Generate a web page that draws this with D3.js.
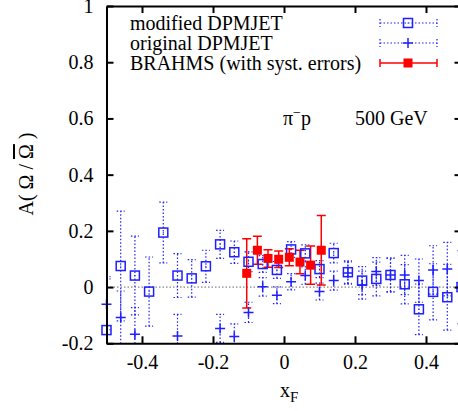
<!DOCTYPE html>
<html>
<head>
<meta charset="utf-8">
<script src="https://cdn.jsdelivr.net/npm/d3@7"></script>
<style>
  body { margin: 0; background: #fff; }
  svg { display: block; font-family: "Liberation Serif", "Times New Roman", serif; }
</style>
</head>
<body>
<svg id="chart" width="458" height="411"></svg>
<script>
// modified DPMJET (open squares)
const modX   = [-0.50, -0.46, -0.42, -0.38, -0.34, -0.30, -0.26, -0.22, -0.18, -0.14, -0.10, -0.06, -0.02,
                 0.02, 0.06, 0.10, 0.14, 0.18, 0.22, 0.26, 0.30, 0.34, 0.38, 0.42, 0.46, 0.50];
const modY   = [-0.153, 0.075, 0.041, -0.016, 0.194, 0.041, 0.031, 0.074, 0.152, 0.124, 0.090, 0.082, 0.061,
                 0.134, 0.120, 0.064, 0.121, 0.053, 0.023, 0.029, 0.043, 0.010, -0.079, -0.017, -0.036, 0.000];
const modErr = [0.19, 0.195, 0.14, 0.123, 0.108, 0.078, 0.067, 0.057, 0.05, 0.04, 0.035, 0.03, 0.03,
                0.028, 0.03, 0.03, 0.035, 0.04, 0.05, 0.06, 0.06, 0.07, 0.09, 0.10, 0.117, 0.13];

// original DPMJET (plus signs)
const origX   = [-0.50, -0.46, -0.42, -0.30, -0.18, -0.14, -0.10, -0.06, -0.02, 0.02, 0.06, 0.10,
                  0.14, 0.18, 0.22, 0.26, 0.30, 0.34, 0.38, 0.42, 0.46];
const origY   = [-0.061, -0.108, -0.168, -0.174, -0.147, -0.176, -0.090, 0.001, -0.029, 0.019, 0.041, -0.016,
                  0.023, 0.050, 0.007, 0.055, 0.043, 0.043, 0.023, 0.061, 0.064];
const origErr = [0.09, 0.094, 0.095, 0.077, 0.05, 0.045, 0.036, 0.033, 0.03, 0.029, 0.031, 0.03,
                 0.034, 0.04, 0.05, 0.05, 0.06, 0.07, 0.077, 0.086, 0.095];

// BRAHMS data (filled red squares)
const brX   = [-0.105, -0.075, -0.045, -0.015, 0.015, 0.045, 0.075, 0.105];
const brY   = [0.049, 0.131, 0.102, 0.099, 0.106, 0.089, 0.078, 0.131];
const brErr = [0.123, 0.05, 0.031, 0.029, 0.03, 0.042, 0.068, 0.124];

const xTicks = [-0.4, -0.2, 0, 0.2, 0.4];
const xTickLabels = ['-0.4', '-0.2', '0', '0.2', '0.4'];
const yTicks = [-0.2, 0, 0.2, 0.4, 0.6, 0.8, 1];
const yTickLabels = ['-0.2', '0', '0.2', '0.4', '0.6', '0.8', '1'];

const legendNames = ['modified DPMJET', 'original DPMJET', 'BRAHMS (with syst. errors)'];

const BLUE = '#1f1fff', RED = '#ff0000';

const svg = d3.select('#chart');
const L = 106.5, R = 461.5, T = 6, B = 343.3;
const x = d3.scaleLinear().domain([-0.5, 0.5]).range([L, R]);
const y = d3.scaleLinear().domain([-0.2, 1]).range([B, T]);

svg.append('defs').append('clipPath').attr('id', 'plotclip')
  .append('rect').attr('x', L).attr('y', T).attr('width', R - L).attr('height', B - T);

// zero line
svg.append('line')
  .attr('x1', L).attr('x2', R).attr('y1', y(0)).attr('y2', y(0))
  .attr('stroke', '#666').attr('stroke-width', 1).attr('stroke-dasharray', '1.5,2');

const plot = svg.append('g');
const bars = plot.append('g').attr('clip-path', 'url(#plotclip)');

function errorBars(xs, ys, es, color, dotted, cap) {
  const pts = xs.map((v, i) => ({ x: v, y: ys[i], e: es[i] }));
  const g = bars.append('g').attr('stroke', color).attr('stroke-width', dotted ? 1.2 : 1.5)
    .attr('stroke-dasharray', dotted ? '1.5,2' : null);
  g.selectAll('line.v').data(pts).enter().append('line').attr('class', 'v')
    .attr('x1', d => x(d.x)).attr('x2', d => x(d.x))
    .attr('y1', d => y(d.y - d.e)).attr('y2', d => y(d.y + d.e));
  [-1, 1].forEach(s => {
    g.selectAll('line.c' + (s + 1)).data(pts).enter().append('line').attr('class', 'c' + (s + 1))
      .attr('x1', d => x(d.x) - cap).attr('x2', d => x(d.x) + cap)
      .attr('y1', d => y(d.y + s * d.e)).attr('y2', d => y(d.y + s * d.e));
  });
}

errorBars(modX, modY, modErr, BLUE, true, 4);
errorBars(origX, origY, origErr, BLUE, true, 4);
errorBars(brX, brY, brErr, RED, false, 4.5);

function squareMark(g, cx, cy) {
  g.append('rect').attr('x', cx - 4.5).attr('y', cy - 4.5).attr('width', 9).attr('height', 9)
    .attr('fill', 'none').attr('stroke', BLUE).attr('stroke-width', 1.5);
  g.append('circle').attr('cx', cx).attr('cy', cy).attr('r', 0.6).attr('fill', BLUE);
}
function plusMark(g, cx, cy) {
  g.append('path').attr('d', `M${cx - 5},${cy}H${cx + 5}M${cx},${cy - 5}V${cy + 5}`)
    .attr('stroke', BLUE).attr('stroke-width', 1.5).attr('fill', 'none');
}
function filledMark(g, cx, cy) {
  g.append('rect').attr('x', cx - 4.5).attr('y', cy - 4.5).attr('width', 9).attr('height', 9)
    .attr('fill', RED);
}

const marks = plot.append('g');
modX.forEach((v, i) => squareMark(marks, x(v), y(modY[i])));
origX.forEach((v, i) => plusMark(marks, x(v), y(origY[i])));
brX.forEach((v, i) => filledMark(marks, x(v), y(brY[i])));

// axes
const axStyle = g => {
  g.select('.domain').attr('stroke', '#000').attr('stroke-width', 2);
  g.selectAll('.tick line').attr('stroke', '#000').attr('stroke-width', 2);
  g.selectAll('.tick text').attr('fill', '#000').attr('font-size', 20)
    .attr('font-family', '"Liberation Serif", serif');
};
svg.append('g').attr('transform', `translate(${L},0)`)
  .call(d3.axisLeft(y).tickValues(yTicks).tickFormat((d, i) => yTickLabels[i]).tickSizeInner(-7).tickSizeOuter(0).tickPadding(13))
  .call(axStyle);
svg.append('g').attr('transform', `translate(0,${B})`)
  .call(d3.axisBottom(x).tickValues(xTicks).tickFormat((d, i) => xTickLabels[i]).tickSizeInner(-7).tickSizeOuter(0).tickPadding(12))
  .call(axStyle);
svg.append('g').attr('transform', `translate(0,${T})`)
  .call(d3.axisTop(x).tickValues(xTicks).tickFormat('').tickSizeInner(-7).tickSizeOuter(0))
  .call(axStyle);
svg.append('g').attr('transform', `translate(${R},0)`)
  .call(d3.axisRight(y).tickValues(yTicks).tickFormat('').tickSizeInner(-7).tickSizeOuter(0))
  .call(axStyle);

// legend
const legend = svg.append('g');
const legY = [23, 43, 63];
legendNames.forEach((name, i) => {
  legend.append('text').attr('x', 130).attr('y', legY[i]).attr('dy', '0.35em')
    .attr('font-size', 20).attr('fill', '#000').text(name);
  const lg = legend.append('g').attr('stroke', i < 2 ? BLUE : RED)
    .attr('stroke-width', i < 2 ? 1.2 : 1.5).attr('stroke-dasharray', i < 2 ? '1.5,2' : null);
  lg.append('line').attr('x1', 380).attr('x2', 437).attr('y1', legY[i]).attr('y2', legY[i]);
  lg.append('line').attr('x1', 380).attr('x2', 380).attr('y1', legY[i] - 4).attr('y2', legY[i] + 4);
  lg.append('line').attr('x1', 437).attr('x2', 437).attr('y1', legY[i] - 4).attr('y2', legY[i] + 4);
  if (i === 0) squareMark(legend, 408, legY[i]);
  else if (i === 1) plusMark(legend, 408, legY[i]);
  else filledMark(legend, 408, legY[i]);
});

// annotation
const ann = svg.append('text').attr('x', 283).attr('y', 125).attr('font-size', 20).attr('fill', '#000');
ann.append('tspan').text('π');
ann.append('tspan').attr('dy', -8).attr('font-size', 14).text('−');
ann.append('tspan').attr('dy', 8).text('p');
svg.append('text').attr('x', 355).attr('y', 125).attr('font-size', 20).attr('fill', '#000').text('500 GeV');

// axis titles
const xt = svg.append('text').attr('x', 280).attr('y', 397).attr('font-size', 20).attr('fill', '#000');
xt.append('tspan').text('x');
xt.append('tspan').attr('dy', 5).attr('font-size', 15).text('F');

const yt = svg.append('text').attr('transform', 'translate(33,174) rotate(-90)')
  .attr('text-anchor', 'middle').attr('font-size', 20).attr('fill', '#000');
yt.append('tspan').text('A( Ω / ');
yt.append('tspan').attr('text-decoration', 'overline').text('Ω');
yt.append('tspan').text(' )');
</script>
</body>
</html>
